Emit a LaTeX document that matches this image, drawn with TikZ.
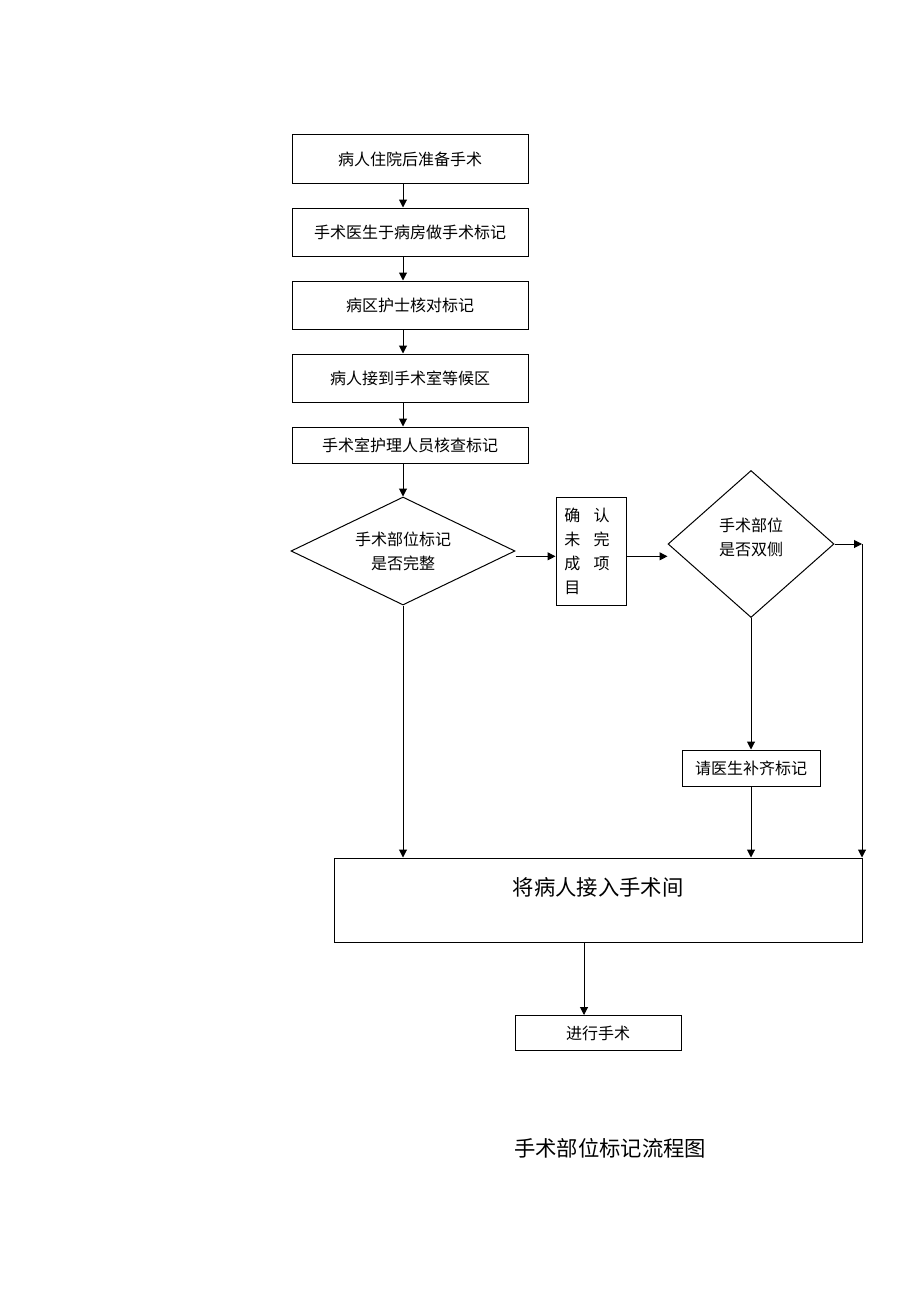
\documentclass[tikz,border=0pt]{standalone}
\usepackage{fontspec}
\setmainfont{Noto Sans CJK SC}
\usetikzlibrary{positioning, shapes.geometric, arrows.meta}
\tikzset{process/.style={rectangle, minimum width=177pt, minimum height=36pt, text centered, draw=black, line width=0.75pt, font=\fontsize{12pt}{18pt}\selectfont},
         decision/.style={diamond, inner sep=0pt, align=center, draw=black, line width=0.75pt, font=\fontsize{12pt}{18pt}\selectfont},
         bigbox/.style={rectangle, minimum width=396pt, minimum height=63pt, align=center, draw=black, line width=0.75pt, font=\fontsize{16pt}{20pt}\selectfont},
         arr/.style={-{Triangle[length=6pt, width=6pt]}, line width=0.75pt}}

\begin{document}
\begin{tikzpicture}[x=0.75pt, y=-0.75pt, node distance=18pt]
        \useasboundingbox (0,0) rectangle (920,1302);
        % main chain
        \node (admit)[process] at (410,159) {病人住院后准备手术};
        \node (mark)[process, below=of admit]{手术医生于病房做手术标记};
        \node (ward)[process, below=of mark]{病区护士核对标记};
        \node (wait)[process, below=of ward]{病人接到手术室等候区};
        \node (orcheck)[process, minimum height=27pt, below=of wait]{手术室护理人员核查标记};
        \foreach \a/\b in {admit/mark, mark/ward, ward/wait, wait/orcheck}
            \draw [arr] ([xshift=-5.25pt]\a.south) -- ([xshift=-5.25pt]\b.north);
        \node (complete)[decision, aspect=2.07, minimum width=168pt, minimum height=81pt] at (403,551) {手术部位标记\\是否完整};
        \draw [arr] ([xshift=-5.25pt]orcheck.south) -- (complete.north);
        \node (confirm)[process, minimum width=52.5pt, minimum height=81pt, align=left, text width=40pt] at (591,551)
            {确\hspace{10pt}认\\未\hspace{10pt}完\\成\hspace{10pt}项\\目};
        \draw [arr] ([yshift=-4pt]complete.east) -- ([yshift=-4pt]confirm.west);
        \node (both)[decision, aspect=1.13, minimum width=124.5pt, minimum height=110.25pt] at (751,544) {手术部位\\是否双侧\\[-7pt]\mbox{}};
        \draw [arr] ([yshift=-4pt]confirm.east) -- ([yshift=-4pt]confirm.east -| both.west);
        \node (supply)[process, minimum width=103.5pt, minimum height=27pt] at (751,768) {请医生补齐标记};
        \draw [arr] (both.south) -- (supply.north);
        % bottom part
        \node (enter)[bigbox] at (598,900) {将病人接入手术间\\ \mbox{}};
        \draw [arr] (complete.south) -- (complete.south |- enter.north);
        \draw [arr] (supply.south) -- (supply.south |- enter.north);
        \coordinate (turn) at (862,544);
        \draw [arr] (both.east) -- (turn);
        \draw [arr] (turn) -- (turn |- enter.north);
        \node (operate)[process, minimum width=124.5pt, minimum height=26.25pt] at (598,1033) {进行手术};
        \draw [arr] ([xshift=-10.5pt]enter.south) -- ([xshift=-10.5pt]operate.north);
        \node (title)[font=\fontsize{16pt}{20pt}\selectfont] at (610,1148) {手术部位标记流程图};
\end{tikzpicture}
\end{document}
